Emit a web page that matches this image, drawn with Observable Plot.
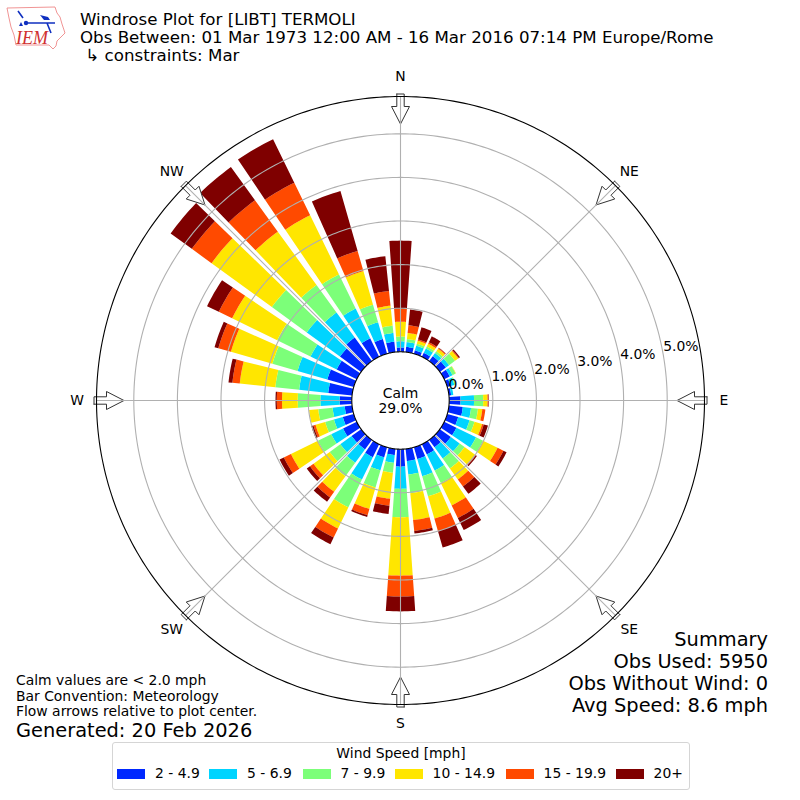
<!DOCTYPE html>
<html>
<head>
<meta charset="utf-8">
<script src="https://cdn.jsdelivr.net/npm/d3@7"></script>
<script src="https://cdn.jsdelivr.net/npm/@observablehq/plot@0.6"></script>
<style>
  html, body { margin:0; padding:0; background:#fff; }
  body { width:800px; height:800px; position:relative; overflow:hidden; font-family:"DejaVu Sans", sans-serif; color:#000; }
  #chart { position:absolute; left:0; top:0; }
  .t { position:absolute; white-space:pre; line-height:1; }
  .m { font-size:13.9px; }
  .l { font-size:19.4px; }
  .h { font-size:16.67px; left:80px; }
  .r { right:32px; text-align:right; }
  #legend { position:absolute; left:112px; top:742px; width:576px; height:46px; border:1px solid #d5d5d5; border-radius:3px; background:#fff; box-sizing:content-box; }
  .sw { position:absolute; top:26px; width:28px; height:10px; }
  .lt { position:absolute; top:24px; font-size:13.9px; line-height:1; white-space:pre; }
</style>
</head>
<body>
<div id="chart"></div>
<svg style="position:absolute;left:0;top:0" width="70" height="54" viewBox="0 0 70 54">
  <path d="M7 8 L55 7 L57 13 L60 17 L62 24 L65 33 L61 37 L57 41 L56 46 L53 49 L49 45 L16 45 L14 35 L11 27 L9 18 Z" fill="none" stroke="#e88" stroke-width="0.9"/>
  <path d="M25 23 L55 23 M18 11 L23 18 M47 23 L51 33" fill="none" stroke="#1030c0" stroke-width="1.6"/>
  <path d="M40 15 L48 17 L50 20 L44 20 Z" fill="#1030c0"/>
  <circle cx="26" cy="23" r="2.2" fill="#1030c0"/>
  <path d="M19 26 L21 22 L23 26 Z" fill="#1030c0"/>
  <text x="16" y="44" font-family="Liberation Serif" font-style="italic" font-size="18" fill="#d03030">IEM</text>
</svg>
<div class="t h" style="top:12px">Windrose Plot for [LIBT] TERMOLI</div>
<div class="t h" style="top:30px">Obs Between: 01 Mar 1973 12:00 AM - 16 Mar 2016 07:14 PM Europe/Rome</div>
<div class="t h" style="top:48px"> ↳ constraints: Mar</div>
<div class="t m" style="left:16px;top:674px">Calm values are &lt; 2.0 mph</div>
<div class="t m" style="left:16px;top:690px">Bar Convention: Meteorology</div>
<div class="t m" style="left:16px;top:705px">Flow arrows relative to plot center.</div>
<div class="t l" style="left:16px;top:720.5px">Generated: 20 Feb 2026</div>
<div class="t l r" style="top:630px">Summary</div>
<div class="t l r" style="top:652px">Obs Used: 5950</div>
<div class="t l r" style="top:674px">Obs Without Wind: 0</div>
<div class="t l r" style="top:696px">Avg Speed: 8.6 mph</div>
<div id="legend"></div>
<script>
// Wind direction bins (degrees, meteorological)
const directions = [0,10,20,30,40,50,60,70,80,90,100,110,120,130,140,150,160,170,180,190,200,210,220,230,240,250,260,270,280,290,300,310,320,330,340,350];
const binNames = ["2 - 4.9","5 - 6.9","7 - 9.9","10 - 14.9","15 - 19.9","20+"];
const binColors = ["#0028ff","#00d4ff","#7cff79","#ffe600","#ff4a00","#7f0000"];
// Frequency (%) per direction in each speed bin
const speed2to4 = [.10,.12,.08,.10,.14,.17,.14,.08,.05,.26,.32,.26,.31,.31,.21,.26,.28,.28,.40,.14,.24,.33,.27,.27,.35,.26,.17,.28,.55,.63,.51,.60,.67,.47,.35,.24];
const speed5to6 = [.14,.11,.11,.11,.09,.09,.07,.09,.05,.31,.19,.27,.50,.25,.32,.41,.41,.31,.51,.18,.31,.57,.38,.32,.30,.21,.28,.44,.67,.71,.67,.94,.71,.76,.40,.20];
const speed7to9 = [.11,.07,.05,.05,.05,.17,.08,.03,0,.21,.16,.12,.18,.14,.28,.32,.48,.43,.65,.23,.41,.71,.38,.30,.34,.21,.33,.52,.55,.60,.85,.99,.78,.87,.42,.17];
const speed10to14 = [.34,.14,.07,.07,.07,.09,.01,0,0,.10,.10,.18,.37,.30,.31,.57,.53,.62,1.34,.60,.51,.54,.44,.46,.69,.23,.21,.36,.82,.99,1.15,1.71,1.51,1.51,.80,.46];
const speed15to19 = [.30,.18,.03,.04,.02,.02,0,0,0,.02,.07,.04,.15,.02,.20,.32,.30,.25,.48,.16,.15,.23,.16,.10,.18,.05,0,.12,.17,.30,.34,.56,.89,.83,.48,.34];
const speed20up = [1.56,.36,.29,.15,.01,.03,0,0,0,.01,0,.10,.08,.03,.21,.31,.39,.06,.34,.19,.04,.17,.12,.09,.11,.05,0,.03,.09,.09,.30,.60,.94,1.11,1.43,.80];
const series = [speed2to4,speed5to6,speed7to9,speed10to14,speed15to19,speed20up];
const ringValues = [1,2,3,4,5];
const ringLabels = [0,1,2,3,4,5];
const compass = [["N",0],["NE",45],["E",90],["SE",135],["S",180],["SW",225],["W",270],["NW",315]];
const calmText = "Calm\n29.0%";

// Radial layout: the zero ring sits at a hole in the polar axis, the axis tops out at rMax
const unit = 43.6, hole = 48.7 / unit, rMax = 304 / unit, half = 400 / unit, barWidth = 8;
const rad = d => d * Math.PI / 180;
const px = (rho, deg) => rho * Math.sin(rad(deg));
const py = (rho, deg) => rho * Math.cos(rad(deg));
const sweep = d3.range(0, 361, 1);

const wedges = [];
directions.forEach((dir, i) => {
  let base = 0;
  series.forEach((s, k) => {
    const v = s[i];
    if (v > 0) {
      const arc = d3.range(dir - barWidth / 2, dir + barWidth / 2 + 0.01, 1);
      const pts = [...arc.map(a => [hole + base, a]), ...arc.slice().reverse().map(a => [hole + base + v, a])];
      pts.forEach(([r, a]) => wedges.push({id: dir + "-" + k, bin: binNames[k], x: px(r, a), y: py(r, a)}));
    }
    base += v;
  });
});

const ring = (rho, id) => sweep.map(a => ({id, x: px(rho, a), y: py(rho, a)}));
const gridRings = ringValues.flatMap(v => ring(hole + v, v));
const spokes = compass.map(([n, a]) => ({x1: px(hole, a), y1: py(hole, a), x2: px(rMax, a), y2: py(rMax, a)}));

// Arrow outline in (radius px, across px)
const arrowShape = [[306.5,-3.7],[294,-3.7],[294,-9],[276.5,0],[294,9],[294,3.7],[306.5,3.7]];
const arrows = compass.flatMap(([n, a]) => arrowShape.map(([r, c]) => {
  const rr = r / unit, cc = c / unit;
  return {id: n, x: px(rr, a) + cc * Math.cos(rad(a)), y: py(rr, a) - cc * Math.sin(rad(a))};
}));
const closed = (data) => d3.groups(data, d => d.id).flatMap(([, g]) => [...g, g[0]]);

const labelR = 323.5 / unit;

const plot = Plot.plot({
  width: 800, height: 800, margin: 0,
  style: {fontFamily: "DejaVu Sans", background: "transparent"},
  x: {domain: [-half, half], axis: null},
  y: {domain: [-half, half], axis: null},
  color: {type: "ordinal", domain: binNames, range: binColors, legend: false},
  marks: [
    Plot.line(wedges, {x: "x", y: "y", z: "id", fill: "bin", stroke: "none"}),
    Plot.line(closed(arrows), {x: "x", y: "y", z: "id", fill: "white", stroke: "#333", strokeWidth: 1}),
    Plot.line(gridRings, {x: "x", y: "y", z: "id", stroke: "#b0b0b0", strokeWidth: 1.1}),
    Plot.link(spokes, {x1: "x1", y1: "y1", x2: "x2", y2: "y2", stroke: "#b0b0b0", strokeWidth: 1.1}),
    Plot.line(ring(rMax, "o"), {x: "x", y: "y", z: "id", stroke: "#000", strokeWidth: 1.1}),
    Plot.line(ring(hole, "c"), {x: "x", y: "y", z: "id", fill: "white", stroke: "#000", strokeWidth: 1.1}),
    Plot.text(compass, {x: d => px(labelR, d[1]), y: d => py(labelR, d[1]), text: d => d[0], fontSize: 13.9, fill: "#000"}),
    Plot.text(ringLabels, {x: d => px(hole + d, 80), y: d => py(hole + d, 80), text: d => d.toFixed(1) + "%", textAnchor: "start", lineAnchor: "bottom", dy: -3, fontSize: 13.9, fill: "#000"}),
    Plot.text([calmText], {x: () => 0, y: () => 0, text: d => d, fontSize: 13.9, lineHeight: 1.08, fill: "#000"})
  ]
});
document.getElementById("chart").appendChild(plot);

// Legend
const legendEl = document.getElementById("legend");
const swatchLeft = [4.4, 96.4, 190, 282, 393, 503];
const legendTitle = document.createElement("div");
legendTitle.className = "lt";
legendTitle.style.cssText = "left:0;width:100%;text-align:center;top:4px";
legendTitle.textContent = "Wind Speed [mph]";
legendEl.appendChild(legendTitle);
binNames.forEach((name, i) => {
  const s = document.createElement("div");
  s.className = "sw";
  s.style.left = swatchLeft[i] + "px";
  s.style.background = binColors[i];
  legendEl.appendChild(s);
  const t = document.createElement("div");
  t.className = "lt";
  t.style.left = (swatchLeft[i] + 37.6) + "px";
  t.textContent = name;
  legendEl.appendChild(t);
});
</script>
</body>
</html>
